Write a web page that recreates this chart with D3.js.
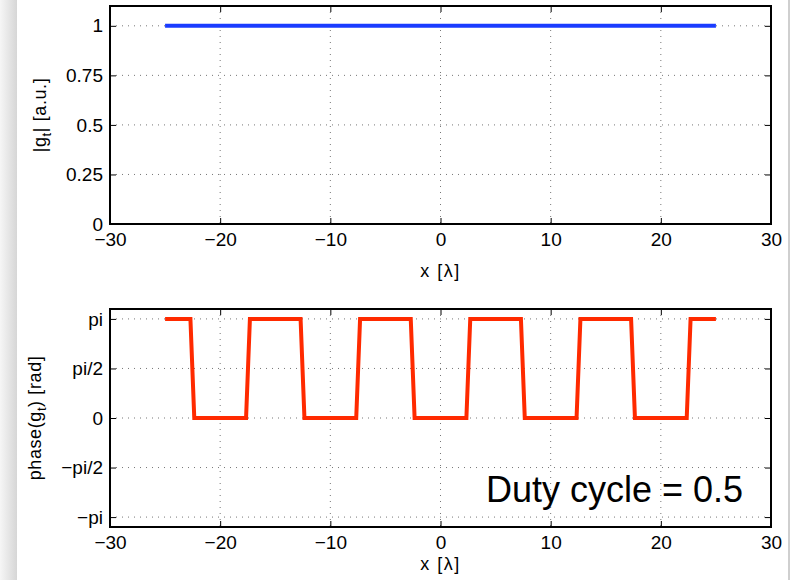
<!DOCTYPE html>
<html>
<head>
<meta charset="utf-8">
<script src="https://cdn.jsdelivr.net/npm/d3@7"></script>
<style>
  body { margin: 0; background: #fff; }
  text { font-family: "Liberation Sans", Arial, Helvetica, sans-serif; fill: #000; }
</style>
</head>
<body>
<svg id="chart" width="790" height="580"></svg>
<script>
// data
const xTicks = [-30, -20, -10, 0, 10, 20, 30];
const ampTicks = [0, 0.25, 0.5, 0.75, 1];
const ampTickLabels = ["0", "0.25", "0.5", "0.75", "1"];
const phaseTicks = [-1, -0.5, 0, 0.5, 1]; // in units of pi
const phaseTickLabels = ["\u2212pi", "\u2212pi/2", "0", "pi/2", "pi"];

const ampX = [-25, 25];
const ampY = [1, 1];

const phaseX = [-25, -22.7, -22.35, -17.65, -17.3, -12.7, -12.35, -7.65, -7.3, -2.7, -2.35,
                2.35, 2.7, 7.3, 7.65, 12.35, 12.7, 17.3, 17.65, 22.35, 22.7, 25];
const phaseY = [1, 1, 0, 0, 1, 1, 0, 0, 1, 1, 0, 0, 1, 1, 0, 0, 1, 1, 0, 0, 1, 1]; // x pi

const svg = d3.select("#chart");

// window frame edges
const grad = svg.append("defs").append("linearGradient").attr("id", "edge");
grad.append("stop").attr("offset", "0%").attr("stop-color", "#f6f6f6");
grad.append("stop").attr("offset", "100%").attr("stop-color", "#d6d6d6");
svg.append("rect").attr("x", 0).attr("y", 0).attr("width", 17).attr("height", 580).attr("fill", "url(#edge)");
svg.append("rect").attr("x", 788).attr("y", 0).attr("width", 2).attr("height", 580).attr("fill", "#cfcfcf");

const left = 110, right = 771;
const x = d3.scaleLinear().domain([-30, 30]).range([left, right]);

function panel(top, bottom, yDomain, yTicks, yLabels, xs, ys, color, yTitle, titleX, labelY) {
  const y = d3.scaleLinear().domain(yDomain).range([bottom, top]);
  const g = svg.append("g");

  // dotted grid
  g.selectAll(".gx").data(xTicks.slice(1, -1)).join("line")
    .attr("x1", d => x(d)).attr("x2", d => x(d))
    .attr("y1", top).attr("y2", bottom)
    .attr("stroke", "#777").attr("stroke-width", 1).attr("stroke-dasharray", "1,5");
  g.selectAll(".gy").data(yTicks).join("line")
    .attr("x1", left).attr("x2", right)
    .attr("y1", d => y(d)).attr("y2", d => y(d))
    .attr("stroke", "#777").attr("stroke-width", 1).attr("stroke-dasharray", "1,5");

  // data line
  const pts = xs.map((v, i) => [v, ys[i]]);
  g.append("path").datum(pts)
    .attr("d", d3.line().x(d => x(d[0])).y(d => y(d[1])))
    .attr("fill", "none").attr("stroke", color).attr("stroke-width", 4)
    .attr("stroke-linejoin", "miter");

  // axes (ticks inside, box)
  const tl = 6;
  g.append("g").attr("transform", `translate(0,${bottom})`)
    .call(d3.axisBottom(x).tickValues(xTicks).tickSizeInner(-tl).tickSizeOuter(0)
      .tickPadding(9).tickFormat(d => d < 0 ? "\u2212" + Math.abs(d) : d))
    .call(a => a.select(".domain").remove())
    .call(a => a.selectAll("text").attr("font-size", 19).attr("font-family", "Liberation Sans, Arial"));
  g.append("g").attr("transform", `translate(0,${top})`)
    .call(d3.axisTop(x).tickValues(xTicks).tickSizeInner(-tl).tickSizeOuter(0).tickFormat(""))
    .call(a => a.select(".domain").remove());
  g.append("g").attr("transform", `translate(${left},0)`)
    .call(d3.axisLeft(y).tickValues(yTicks).tickSizeInner(-tl).tickSizeOuter(0)
      .tickPadding(7).tickFormat((d, i) => yLabels[i]))
    .call(a => a.select(".domain").remove())
    .call(a => a.selectAll("text").attr("font-size", 19).attr("font-family", "Liberation Sans, Arial"));
  g.append("g").attr("transform", `translate(${right},0)`)
    .call(d3.axisRight(y).tickValues(yTicks).tickSizeInner(-tl).tickSizeOuter(0).tickFormat(""))
    .call(a => a.select(".domain").remove());
  g.selectAll(".tick line").attr("stroke", "#000").attr("stroke-width", 1);

  g.append("rect").attr("x", left).attr("y", top)
    .attr("width", right - left).attr("height", bottom - top)
    .attr("fill", "none").attr("stroke", "#000").attr("stroke-width", 2);

  // x label
  g.append("text").attr("x", (left + right) / 2).attr("y", labelY)
    .attr("text-anchor", "middle").attr("font-size", 18).attr("letter-spacing", 1.5)
    .text("x [\u03bb]");

  // y label
  const yl = g.append("text")
    .attr("transform", `translate(${titleX},${(top + bottom) / 2}) rotate(-90)`)
    .attr("text-anchor", "middle").attr("font-size", 18).attr("letter-spacing", 0.6);
  yl.append("tspan").text(yTitle[0]);
  yl.append("tspan").attr("font-size", 13).attr("dy", 5).text("t");
  yl.append("tspan").attr("dy", -5).text(yTitle[1]);
  return y;
}

panel(6, 224, [0, 1.1], ampTicks, ampTickLabels, ampX, ampY, "#1a3cff", ["|g", "| [a.u.]"], 46, 277);
panel(309, 527, [-1.1, 1.1], phaseTicks, phaseTickLabels, phaseX, phaseY, "#ff2a00", ["phase(g", ") [rad]"], 41, 570);

svg.append("text").attr("x", 486).attr("y", 502)
  .attr("font-size", 36).text("Duty cycle = 0.5");
</script>
</body>
</html>
